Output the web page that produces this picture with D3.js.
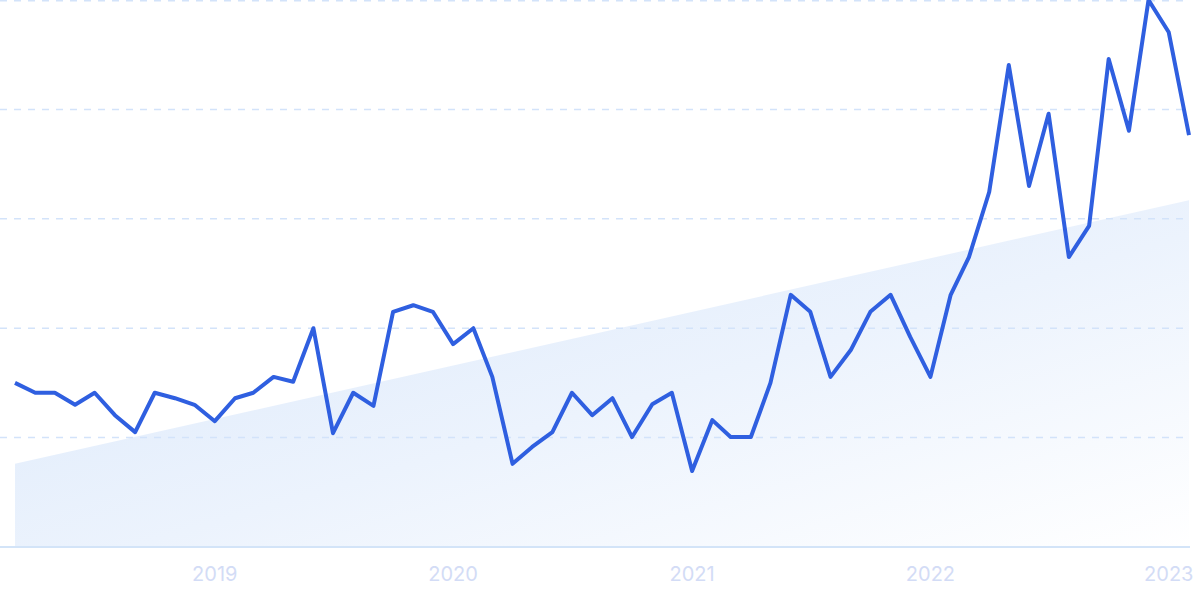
<!DOCTYPE html>
<html><head><meta charset="utf-8">
<script src="https://cdn.jsdelivr.net/npm/d3@7"></script>
<style>html,body{margin:0;padding:0;background:#fff;}svg{display:block;}</style>
</head><body>
<svg id="chart" width="1200" height="599"></svg>
<script>
const startMonth = "2018-03";
const values = [30.0,28.2,28.2,26.0,28.2,24.1,21.0,28.2,27.2,26.0,
  23.0,27.2,28.2,31.1,30.2,40.0,20.8,28.2,25.8,43.0,
  44.2,43.0,37.1,40.0,31.1,15.2,18.3,21.0,28.2,24.1,
  27.2,20.1,26.1,28.2,13.9,23.2,20.1,20.1,30.0,46.1,
  43.0,31.1,36.0,43.0,46.1,38.4,31.1,46.1,53.0,64.9,
  88.1,66.0,79.2,53.0,58.7,89.2,76.1,100,94.1,75.3];
const trendValues = [15.2, 63.4];
const yTicks = [20,40,60,80,100];
const xTickLabels = ["2019","2020","2021","2022","2023"];

const parse = d3.timeParse("%Y-%m");
const start = parse(startMonth);
const data = values.map((v,i)=>({date:d3.timeMonth.offset(start,i), value:v}));
const endDate = data[data.length-1].date;

const svg = d3.select("#chart");
const x = d3.scaleTime().domain([start,endDate]).range([15,1189]);
const y = d3.scaleLinear().domain([0,100]).range([547,0]);

const defs = svg.append("defs");
const grad = defs.append("linearGradient").attr("id","areaGrad")
  .attr("x1","0").attr("y1","0").attr("x2","1").attr("y2","1");
grad.append("stop").attr("offset","0").attr("stop-color","#d9e7fa");
grad.append("stop").attr("offset","0.55").attr("stop-color","#ecf3fd");
grad.append("stop").attr("offset","1").attr("stop-color","#ffffff");

const trend = [{date:start,value:trendValues[0]},{date:endDate,value:trendValues[1]}];
svg.append("path").datum(trend)
  .attr("fill","url(#areaGrad)")
  .attr("d", d3.area().x(d=>x(d.date)).y0(y(0)).y1(d=>y(d.value)));

// gridlines
svg.append("g").selectAll("line").data(yTicks).join("line")
  .attr("x1",0).attr("x2",1190)
  .attr("y1",d=>Math.max(y(d),0.75)).attr("y2",d=>Math.max(y(d),0.75))
  .attr("stroke","#d3e3fa").attr("stroke-width",1.5)
  .attr("stroke-dasharray","7,7");

// baseline
svg.append("line").attr("x1",0).attr("x2",1190)
  .attr("y1",y(0)).attr("y2",y(0))
  .attr("stroke","#d3e4f8").attr("stroke-width",1.8);

// x axis labels
const tickDates = xTickLabels.map(s=>d3.timeParse("%Y")(s));
svg.append("g").selectAll("text").data(tickDates).join("text")
  .attr("x",d=>x(d)).attr("y",581)
  .attr("text-anchor","middle")
  .attr("font-family","Inter, 'Open Sans', sans-serif")
  .attr("font-size",20)
  .attr("fill","#d3dcf6")
  .text((d,i)=>xTickLabels[i]);

// line
svg.append("path").datum(data)
  .attr("fill","none")
  .attr("stroke","#2f5fe0")
  .attr("stroke-width",4)
  .attr("stroke-linejoin","round")
  .attr("d", d3.line().x(d=>x(d.date)).y(d=>y(d.value)));
</script>
</body></html>
